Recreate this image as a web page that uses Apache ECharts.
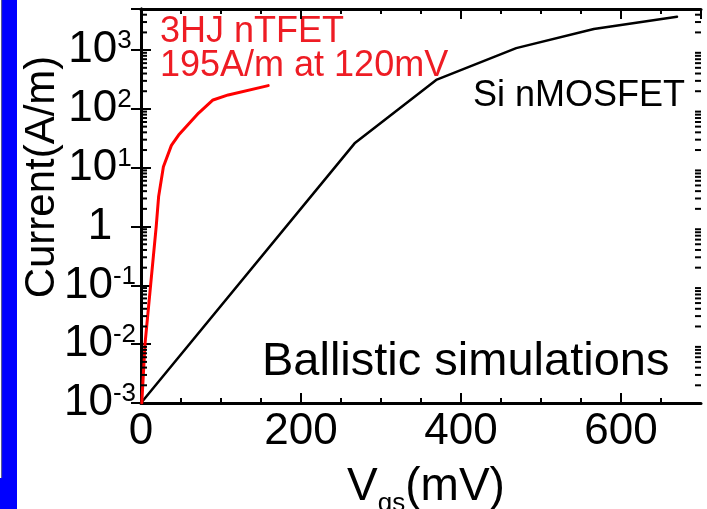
<!DOCTYPE html>
<html><head><meta charset="utf-8">
<script src="https://cdn.jsdelivr.net/npm/echarts@6/dist/echarts.min.js"></script>
<style>html,body{margin:0;padding:0;background:#fff;overflow:hidden}#c{width:707px;height:509px}</style>
</head><body><div id="c"></div>
<script>
// ---- data ----
const ntfetVgs     = [1, 5, 12, 19, 22, 28, 38, 47, 72, 90, 109, 159];
const ntfetCurrent = [0.001, 0.01, 0.1, 1, 3.2, 10.4, 24, 36, 85, 142, 173, 249];
const mosVgs       = [0, 267, 369, 469, 566, 670];
const mosCurrent   = [0.001, 26, 311, 1080, 2290, 3700];
// ---- ticks ----
const xMin = 0, xMax = 700, xTickInterval = 200;
const xMinorTicks = [50, 100, 150, 250, 300, 350, 450, 500, 550, 650];
const yMin = 0.001, yMax = 5000;
const yTickValues = [0.001, 0.01, 0.1, 1, 10, 100, 1000];
const yTickLabels = [['10','-3'],['10','-2'],['10','-1'],['1',''],['10','1'],['10','2'],['10','3']];
const yMinorMultipliers = [2, 3, 4, 5, 6, 7, 8, 9];

const FONT = "'Liberation Sans', Arial, Helvetica, sans-serif";
const yMinorTicks = [];
yTickValues.forEach(d => yMinorMultipliers.forEach(m => { const v = d * m; if (v < yMax) yMinorTicks.push(+v.toPrecision(6)); }));

function tickSeries(data, dx, dy) {
  return {
    type: 'custom', silent: true, clip: false, z: 5,
    data: data,
    renderItem: function (params, api) {
      const p = api.coord([api.value(0), api.value(1)]);
      return { type: 'line', shape: { x1: p[0], y1: p[1], x2: p[0] + dx, y2: p[1] + dy },
               style: { stroke: '#000', lineWidth: 2 } };
    }
  };
}

function yLabel(v) {
  for (let i = 0; i < yTickValues.length; i++) {
    if (Math.abs(v / yTickValues[i] - 1) < 1e-6) {
      const l = yTickLabels[i];
      return l[1] ? '{b|' + l[0] + '}{s|' + l[1] + '}' : '{b|' + l[0] + '}';
    }
  }
  return '';
}

const axisLine = { show: true, lineStyle: { color: '#000', width: 3 } };
const xAxisBase = {
  type: 'value', min: xMin, max: xMax, interval: xTickInterval,
  axisLine: axisLine, splitLine: { show: false },
  axisTick: { show: true, inside: true, length: 10, lineStyle: { color: '#000', width: 2 } }
};
const yAxisBase = {
  type: 'log', logBase: 10, min: yMin, max: yMax,
  axisLine: axisLine, splitLine: { show: false },
  axisTick: { show: true, inside: true, length: 10, lineStyle: { color: '#000', width: 2 } }
};

const chart = echarts.init(document.getElementById('c'), null, { renderer: 'canvas' });
chart.setOption({
  animation: false,
  backgroundColor: '#fff',
  grid: { left: 141, top: 9, width: 560, height: 394, containLabel: false },
  xAxis: [
    Object.assign({}, xAxisBase, {
      position: 'bottom',
      axisLabel: { show: true, showMaxLabel: false, margin: 7, fontSize: 44, fontFamily: FONT, color: '#000',
        formatter: v => (v % xTickInterval === 0 ? String(v) : '') }
    }),
    Object.assign({}, xAxisBase, { position: 'top', axisLabel: { show: false } })
  ],
  yAxis: [
    Object.assign({}, yAxisBase, {
      position: 'left',
      axisLabel: { show: true, align: 'center', margin: 41, formatter: yLabel,
        rich: {
          b: { fontSize: 44, lineHeight: 44, fontFamily: FONT, color: '#000' },
          s: { fontSize: 26, lineHeight: 26, fontFamily: FONT, color: '#000', verticalAlign: 'top' }
        } }
    }),
    Object.assign({}, yAxisBase, { position: 'right', axisLabel: { show: false } })
  ],
  series: [
    { name: 'Si nMOSFET', type: 'line', showSymbol: false, symbol: 'none', z: 3,
      data: mosVgs.map((x, i) => [x, mosCurrent[i]]),
      lineStyle: { color: '#000', width: 2.5, join: 'round', cap: 'round' } },
    { name: '3HJ nTFET', type: 'line', showSymbol: false, symbol: 'none', z: 4,
      data: ntfetVgs.map((x, i) => [x, ntfetCurrent[i]]),
      lineStyle: { color: '#ff0000', width: 3, join: 'round', cap: 'round' } },
    tickSeries(yMinorTicks.map(v => [xMin, v]), 6, 0),
    tickSeries(yMinorTicks.map(v => [xMax, v]), -6, 0),
    tickSeries(xMinorTicks.map(v => [v, yMin]), 0, -5),
    tickSeries(xMinorTicks.map(v => [v, yMax]), 0, 5)
  ],
  graphic: [
    { type: 'rect', shape: { x: 0, y: 0, width: 17, height: 509 }, style: { fill: '#0000ff' }, silent: true },
    { type: 'rect', shape: { x: 0, y: 0, width: 1.3, height: 478 }, style: { fill: '#ffffff' }, silent: true },
    { type: 'rect', shape: { x: 1.3, y: 0, width: 0.8, height: 478 }, style: { fill: '#666666' }, silent: true },
    { type: 'text', x: 42, y: 177, rotation: Math.PI / 2,
      style: { text: 'Current(A/m)', font: '42px ' + FONT, fill: '#000', align: 'center', verticalAlign: 'middle' } },
    { type: 'text', x: 426, y: 457,
      style: { text: '{v|V}{g|gs}{v|(mV)}', align: 'center', verticalAlign: 'top',
        rich: {
          v: { fontSize: 46, lineHeight: 60, fontFamily: FONT, fill: '#000', verticalAlign: 'middle' },
          g: { fontSize: 26, lineHeight: 26, fontFamily: FONT, fill: '#000', verticalAlign: 'bottom' }
        } } },
    { type: 'text', x: 160, y: 43 - 11, style: { text: '3HJ nTFET', font: '36px ' + FONT, fill: '#ee1c24', align: 'left', verticalAlign: 'middle' } },
    { type: 'text', x: 160, y: 77 - 11, style: { text: '195A/m at 120mV', font: '36px ' + FONT, fill: '#ee1c24', align: 'left', verticalAlign: 'middle' } },
    { type: 'text', x: 473, y: 107 - 11, style: { text: 'Si nMOSFET', font: '36px ' + FONT, fill: '#000', align: 'left', verticalAlign: 'middle' } },
    { type: 'text', x: 262, y: 377 - 14.5, style: { text: 'Ballistic simulations', font: '47px ' + FONT, fill: '#000', align: 'left', verticalAlign: 'middle' } }
  ]
});
</script></body></html>
